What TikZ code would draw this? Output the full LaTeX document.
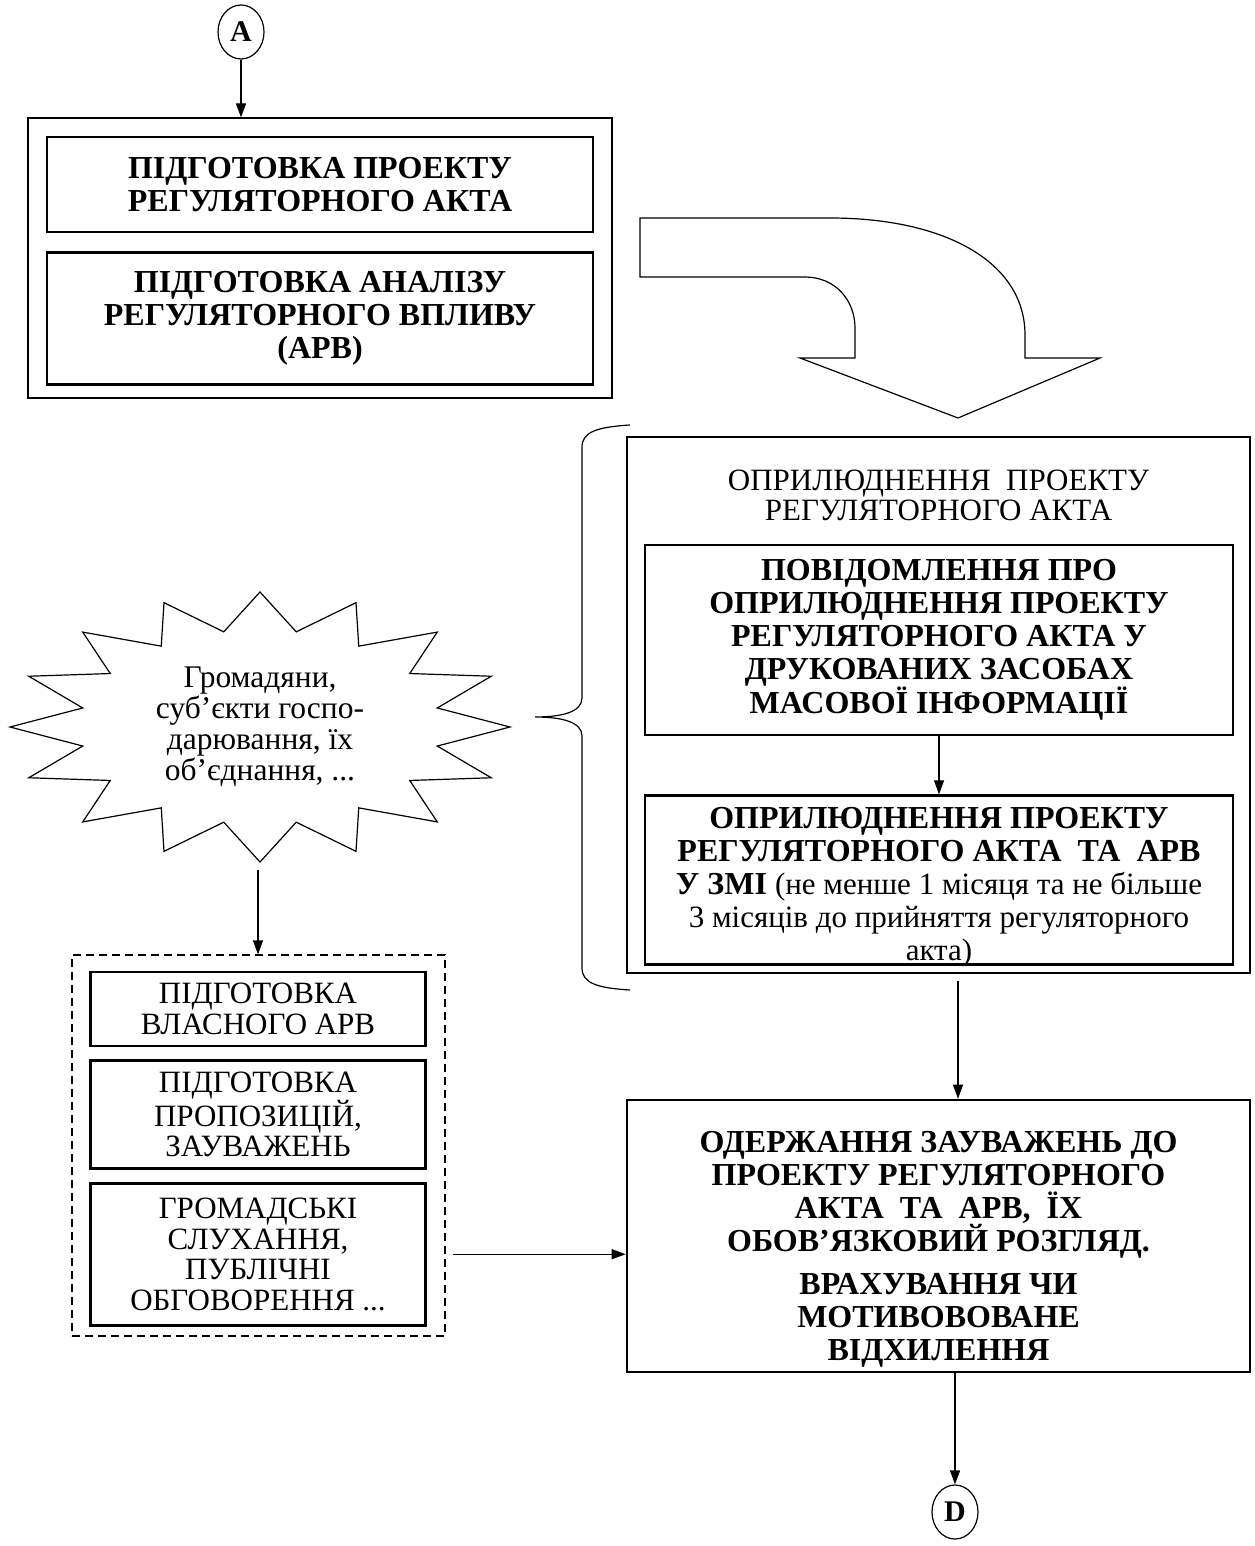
\documentclass[tikz,border=0pt]{standalone}
\usepackage{fontspec}
\setmainfont{Liberation Serif}
\usetikzlibrary{positioning, shapes.geometric, arrows.meta}

\newcommand{\lowered}[3]{\raisebox{-#1}[\height][\depth]{\parbox{#2}{\centering #3}}}

\begin{document}
\begin{tikzpicture}[x=1pt,y=-1pt,node distance=18pt]
\tikzstyle{every node}=[align=center, inner sep=0pt]
\tikzstyle{thinbox}=[draw, line width=1.2pt]
\tikzstyle{thickbox}=[draw, line width=2.6pt, font=\fontsize{32}{33}\selectfont\bfseries]
\tikzstyle{plainbox}=[draw, line width=2.6pt, font=\fontsize{31}{30.5}\selectfont]
\tikzstyle{connector}=[ellipse, draw, line width=1.2pt, minimum width=46pt, minimum height=54pt, font=\fontsize{30}{30}\selectfont\bfseries]
\tikzstyle{every edge}=[draw, -{Triangle[length=14pt,width=10pt]}, line width=1.2pt]

\useasboundingbox (0,0) rectangle (1254,1546);

% preparation of the act
\node[connector] (A) at (241,32) {A};
\node[thinbox, minimum width=584pt, minimum height=280pt] (prep) at (320,258) {};
\node[thickbox, minimum width=546pt, minimum height=95pt] (draft) at (320,184.5) {ПІДГОТОВКА ПРОЕКТУ\\РЕГУЛЯТОРНОГО АКТА};
\node[thickbox, minimum width=546pt, minimum height=132pt, below=of draft] (analysis) {ПІДГОТОВКА АНАЛІЗУ\\РЕГУЛЯТОРНОГО ВПЛИВУ\\(АРВ)};
\draw (A.south) edge (A.south |- prep.north);

% big bent arrow
\draw[line width=1.2pt] (640,218) -- (830,218) .. controls (945,218) and (1025,262) .. (1025,335) -- (1025,358) -- (1100,358) -- (958,418) -- (800,358) -- (855,358) -- (855,328) .. controls (855,300) and (835,277) .. (805,277) -- (640,277) -- cycle;

% publication
\node[thinbox, minimum width=623pt, minimum height=536pt] (pub) at (938.5,705) {};
\node[font=\fontsize{31}{30}\selectfont] (pubtitle) at (938.5,495) {ОПРИЛЮДНЕННЯ~~ПРОЕКТУ\\РЕГУЛЯТОРНОГО АКТА};
\node[thickbox, minimum width=588pt, minimum height=190pt] (notice) at (939,640) {ПОВІДОМЛЕННЯ ПРО\\ОПРИЛЮДНЕННЯ ПРОЕКТУ\\РЕГУЛЯТОРНОГО АКТА У\\ДРУКОВАНИХ ЗАСОБАХ\\МАСОВОЇ ІНФОРМАЦІЇ};
\node[thickbox, minimum width=588pt, minimum height=169pt, below=58pt of notice] (media) {\lowered{7pt}{580pt}{ОПРИЛЮДНЕННЯ ПРОЕКТУ\\РЕГУЛЯТОРНОГО АКТА~~ТА~~АРВ\\У ЗМІ {\mdseries\fontsize{31}{33}\selectfont (не менше 1 місяця та не більше}\\{\mdseries\fontsize{31}{33}\selectfont 3 місяців до прийняття регуляторного}\\{\mdseries\fontsize{31}{33}\selectfont акта)}}};
\draw (notice) edge (media);

% brace
\draw[line width=1.2pt] (630,425) .. controls (597,427) and (582,432) .. (582,447) -- (582,698) .. controls (582,712) and (562,717) .. (535,717) .. controls (562,717) and (582,722) .. (582,736) -- (582,968) .. controls (582,983) and (597,988) .. (630,990);

% remarks
\node[thickbox, minimum width=623pt, minimum height=272pt] (remarks) at (938.5,1236) {\lowered{13pt}{600pt}{ОДЕРЖАННЯ ЗАУВАЖЕНЬ ДО\\ПРОЕКТУ РЕГУЛЯТОРНОГО\\АКТА~~ТА~~АРВ,~~ЇХ\\ОБОВ’ЯЗКОВИЙ РОЗГЛЯД.\\[10pt]ВРАХУВАННЯ ЧИ\\МОТИВОВОВАНЕ\\ВІДХИЛЕННЯ}};
\draw ([xshift=19.5pt,yshift=-7pt]pub.south) edge ([xshift=19.5pt]remarks.north);
\node[connector] (D) at (955,1512) {D};
\draw (remarks.south -| D) edge (D);

% citizens
\node[font=\fontsize{31.5}{31}\selectfont] (citizens) at (260,727) {Громадяни,\\суб’єкти госпо-\\дарювання, їх\\об’єднання, ...};
\begin{scope}[shift={(citizens.center)}, x=250pt, y=-135pt]
\draw[line width=1.2pt] plot coordinates {(0,-1) (0.145,-0.705) (0.384,-0.921) (0.395,-0.599) (0.709,-0.703) (0.599,-0.396) (0.925,-0.376) (0.709,-0.141) (1,0) (0.709,0.141) (0.925,0.376) (0.599,0.396) (0.709,0.703) (0.395,0.599) (0.384,0.921) (0.145,0.705) (0,1) (-0.145,0.705) (-0.384,0.921) (-0.395,0.599) (-0.709,0.703) (-0.599,0.396) (-0.925,0.376) (-0.709,0.141) (-1,0) (-0.709,-0.141) (-0.925,-0.376) (-0.599,-0.396) (-0.709,-0.703) (-0.395,-0.599) (-0.384,-0.921) (-0.145,-0.705)} -- cycle;
\end{scope}
\coordinate (burst) at (258,870);

% actions of the public
\node[thinbox, dash pattern=on 8pt off 5pt, minimum width=373pt, minimum height=381pt] (actions) at (258.5,1145.5) {};
\node[plainbox, minimum width=335pt, minimum height=74pt] (ownarv) at (258,1009) {ПІДГОТОВКА\\ВЛАСНОГО АРВ};
\node[plainbox, minimum width=335pt, minimum height=108pt, below=12pt of ownarv] (proposals) {ПІДГОТОВКА\\ПРОПОЗИЦІЙ,\\ЗАУВАЖЕНЬ};
\node[plainbox, minimum width=335pt, minimum height=142pt, below=12pt of proposals] (hearings) {ГРОМАДСЬКІ\\СЛУХАННЯ,\\ПУБЛІЧНІ\\ОБГОВОРЕННЯ ...};
\draw (burst) edge (burst |- actions.north);
\draw ([xshift=7pt]actions.east |- hearings) edge (remarks.west |- hearings);
\end{tikzpicture}
\end{document}
